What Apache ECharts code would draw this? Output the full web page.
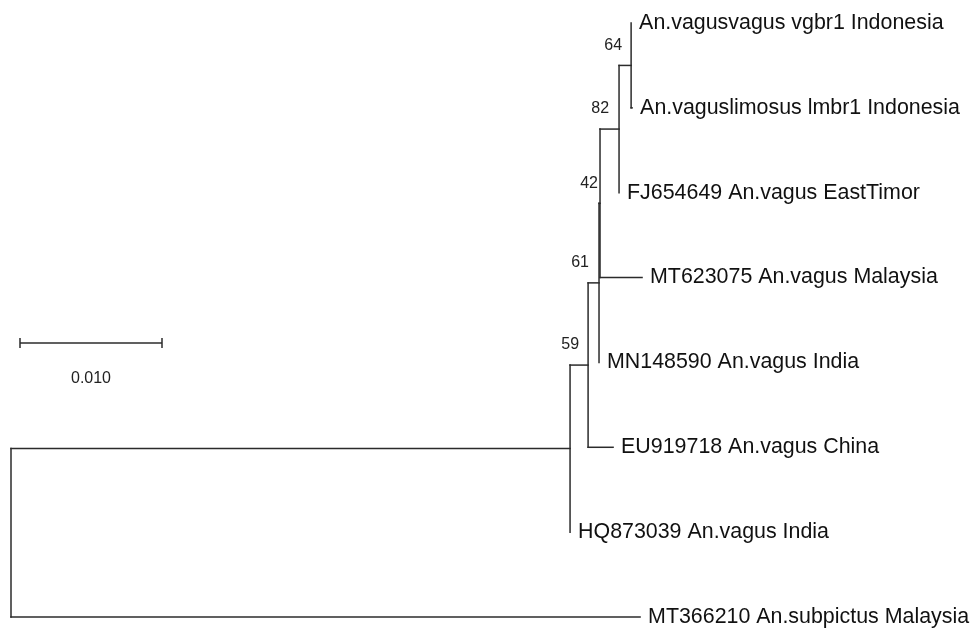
<!DOCTYPE html>
<html>
<head>
<meta charset="utf-8">
<script src="https://cdn.jsdelivr.net/npm/echarts@6/dist/echarts.min.js"></script>
<style>
html,body{margin:0;padding:0;background:#fff;}
#chart{width:977px;height:631px;}
</style>
</head>
<body>
<div id="chart"></div>
<script>
// ---- DATA ----
const taxa = [
  'An.vagusvagus vgbr1 Indonesia',
  'An.vaguslimosus lmbr1 Indonesia',
  'FJ654649 An.vagus EastTimor',
  'MT623075 An.vagus Malaysia',
  'MN148590 An.vagus India',
  'EU919718 An.vagus China',
  'HQ873039 An.vagus India',
  'MT366210 An.subpictus Malaysia'
];
const taxonParent = ['n6', 'n6', 'n5', 'n4', 'n3', 'n2', 'n1', 'root'];
const taxonBranch = [0, 0.00007, 0, 0.00296, 0, 0.00176, 0, 0.04430];

const cladeNames   = ['root', 'n1', 'n2', 'n3', 'n4', 'n5', 'n6'];
const cladeParent  = [null, 'root', 'n1', 'n2', 'n3', 'n4', 'n5'];
const cladeBranch  = [0, 0.03937, 0.00127, 0.00077, 0.00007, 0.00134, 0.00085];
const cladeSupport = [null, null, 59, 61, 42, 82, 64];

const scaleBarLength = 0.010;
const scaleBarLabel = '0.010';

// ---- STYLE / LAYOUT ----
const LINE = '#2b2b2b';
const FONT = "'Liberation Sans', Arial, sans-serif";
const supportDx = { n2: -9, n3: -10, n4: -2, n5: -10, n6: -9 };
const scaleBarPx = { left: 20, top: 343 };

// ---- BUILD TREE ----
const nodes = {};
cladeNames.forEach((n, i) => { nodes[n] = { name: n, parent: cladeParent[i], len: cladeBranch[i], support: cladeSupport[i], children: [], tip: false }; });
taxa.forEach((t, i) => { nodes['t' + i] = { name: 't' + i, label: t, parent: taxonParent[i], len: taxonBranch[i], children: [], tip: true, y: i }; });
Object.values(nodes).forEach(n => { if (n.parent) nodes[n.parent].children.push(n); });
function setX(n, x) { n.x = x + n.len; n.children.forEach(c => setX(c, n.x)); }
setX(nodes.root, 0);
function setY(n) {
  if (n.tip) return n.y;
  const ys = n.children.map(setY);
  n.minY = Math.min(...ys); n.maxY = Math.max(...ys);
  n.y = (n.minY + n.maxY) / 2;
  return n.y;
}
setY(nodes.root);

const segments = [];
Object.values(nodes).forEach(n => {
  if (n.parent) { const p = nodes[n.parent]; segments.push([p.x, n.y, n.x, n.y]); }
  if (!n.tip) segments.push([n.x, n.minY, n.x, n.maxY]);
});
const tipData = taxa.map((t, i) => [nodes['t' + i].x, nodes['t' + i].y, t]);
const supportData = cladeNames.filter((n, i) => cladeSupport[i] != null)
  .map(n => [nodes[n].x, nodes[n].y, String(nodes[n].support), n]);

// ---- CHART ----
const chart = echarts.init(document.getElementById('chart'), null, { renderer: 'canvas' });
chart.setOption({
  backgroundColor: '#ffffff',
  animation: false,
  grid: { left: 11, top: 23, width: 852, height: 594 },
  xAxis: { type: 'value', min: 0, max: 0.06, show: false },
  yAxis: { type: 'value', min: 0, max: 7, inverse: true, show: false },
  series: [
    {
      type: 'custom', clip: false,
      dimensions: ['x1', 'y1', 'x2', 'y2'],
      encode: { x: [0, 2], y: [1, 3] },
      data: segments,
      renderItem: (params, api) => {
        const p1 = api.coord([api.value(0), api.value(1)]);
        const p2 = api.coord([api.value(2), api.value(3)]);
        return { type: 'line', shape: { x1: p1[0], y1: p1[1], x2: p2[0], y2: p2[1] },
          style: { stroke: LINE, lineWidth: 1.5, lineCap: 'square' } };
      }
    },
    {
      type: 'custom', clip: false,
      dimensions: ['x', 'y', 'label'],
      encode: { x: 0, y: 1 },
      data: tipData,
      renderItem: (params, api) => {
        const p = api.coord([api.value(0), api.value(1)]);
        return { type: 'text', x: p[0] + 8, y: p[1],
          style: { text: tipData[params.dataIndex][2], fontSize: 21.4, fontFamily: FONT, fill: '#111',
            align: 'left', verticalAlign: 'middle' } };
      }
    },
    {
      type: 'custom', clip: false,
      dimensions: ['x', 'y', 'label', 'id'],
      encode: { x: 0, y: 1 },
      data: supportData,
      renderItem: (params, api) => {
        const d = supportData[params.dataIndex];
        const p = api.coord([d[0], d[1]]);
        return { type: 'text', x: p[0] + (supportDx[d[3]] || -9), y: p[1] - 20,
          style: { text: d[2], fontSize: 16, fontFamily: FONT, fill: '#222',
            align: 'right', verticalAlign: 'middle' } };
      }
    },
    {
      type: 'custom', clip: false,
      data: [[0, 0]],
      renderItem: (params, api) => {
        const w = api.size([scaleBarLength, 0])[0];
        const x0 = scaleBarPx.left, y0 = scaleBarPx.top, x1 = x0 + w;
        const st = { stroke: LINE, lineWidth: 1.5 };
        return { type: 'group', children: [
          { type: 'line', shape: { x1: x0, y1: y0, x2: x1, y2: y0 }, style: st },
          { type: 'line', shape: { x1: x0, y1: y0 - 5, x2: x0, y2: y0 + 5 }, style: st },
          { type: 'line', shape: { x1: x1, y1: y0 - 5, x2: x1, y2: y0 + 5 }, style: st },
          { type: 'text', x: (x0 + x1) / 2, y: y0 + 36,
            style: { text: scaleBarLabel, fontSize: 16, fontFamily: FONT, fill: '#222', align: 'center', verticalAlign: 'middle' } }
        ] };
      }
    }
  ]
});
</script>
</body>
</html>
